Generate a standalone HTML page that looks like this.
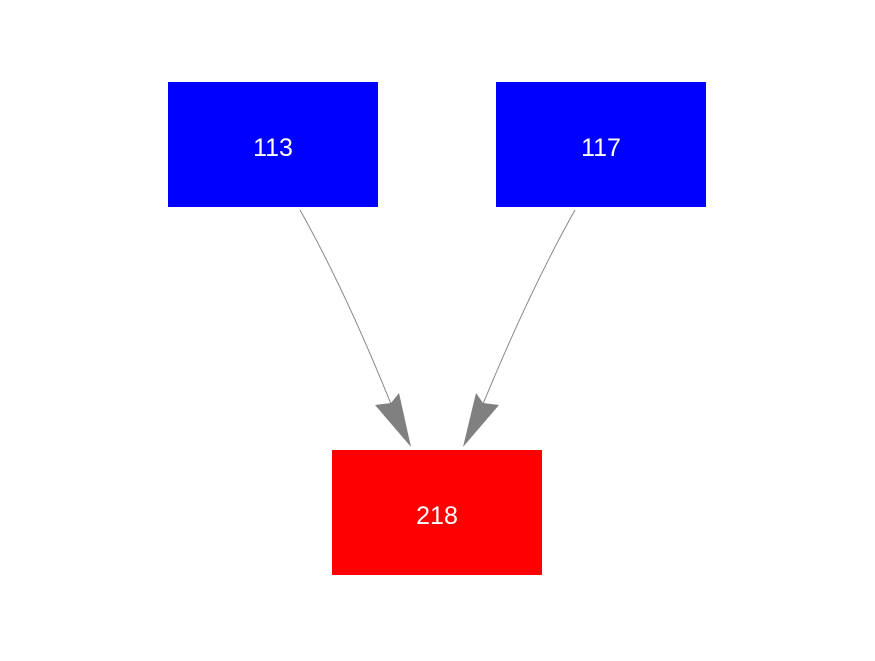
<!DOCTYPE html>
<html><head><style>body{margin:0;background:#fff}</style></head><body>
<svg width="875" height="656" xmlns="http://www.w3.org/2000/svg">
<rect x="168" y="82" width="210" height="125" fill="#0000ff"/>
<rect x="496" y="82" width="210" height="125" fill="#0000ff"/>
<rect x="332" y="450" width="210" height="125" fill="#ff0000"/>
<g font-family="Liberation Sans, sans-serif" font-size="25" fill="#fff" text-anchor="middle">
<text x="273" y="156">113</text>
<text x="601" y="156">117</text>
<text x="437" y="524">218</text>
</g>
<path d="M300 210 Q345 290 391 404" stroke="#888" fill="none"/>
<path d="M575 210 Q530 290 483 404" stroke="#888" fill="none"/>
<polygon points="375,405 411,447 399,393 391,403" fill="#808080"/>
<polygon points="499,405 463,447 476,393 483,403" fill="#808080"/>
</svg>
</body></html>
